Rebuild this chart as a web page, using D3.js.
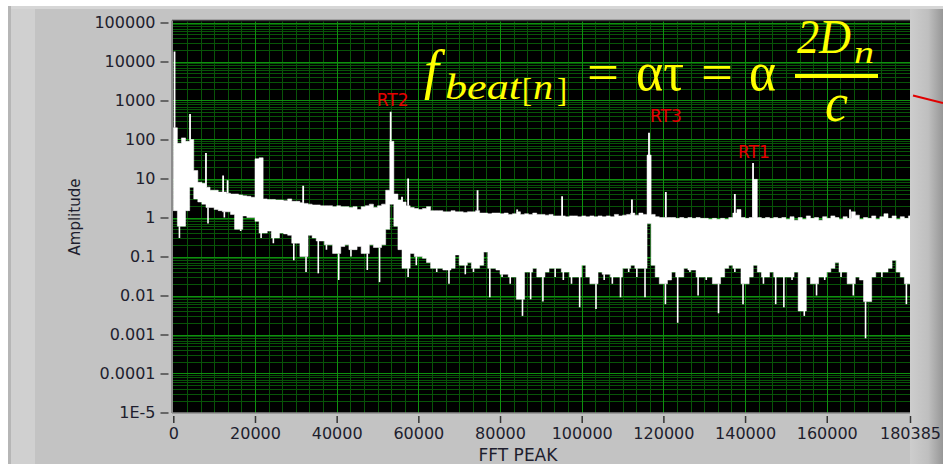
<!DOCTYPE html>
<html>
<head>
<meta charset="utf-8">
<script src="https://cdn.jsdelivr.net/npm/d3@7/dist/d3.min.js"></script>
<style>
  html, body { margin: 0; padding: 0; background: #ffffff; }
  svg { display: block; }
</style>
</head>
<body>
<svg id="chart" width="943" height="464"></svg>
<script>
// ---- Spectrum data (FFT magnitude, envelope per 1000-unit bin) ----
const binWidth = 1000;
const xMax = 180385;

// upper edge of the trace in each bin
const hiEnv = [
  200, 80, 110, 90, 100, 16, 8, 7.5, 6, 5,
  5, 4.5, 4.5, 4.2, 4, 4, 3.8, 3.6, 3.5, 3.3,
  32, 34, 3, 2.9, 2.9, 2.8, 2.8, 2.7, 3.0, 2.6,
  2.6, 2.4, 2.3, 2.2, 2.1, 2.1, 2.0, 2.0, 2.0, 1.9,
  2.0, 1.9, 1.9, 1.8, 1.9, 1.6, 1.9, 2.0, 2.2, 1.8,
  2.0, 2.2, 5, 90, 4, 2.8, 2.5, 2.0, 1.8, 1.7,
  1.6, 1.7, 1.9, 1.5, 1.5, 1.5, 1.4, 1.4, 1.5, 1.4,
  1.4, 1.35, 1.4, 1.4, 1.5, 1.3, 1.3, 1.25, 1.3, 1.3,
  1.25, 1.3, 1.2, 1.25, 1.4, 1.2, 1.25, 1.2, 1.3, 1.2,
  1.2, 1.15, 1.2, 1.1, 1.1, 1.1, 1.05, 1.1, 1.1, 1.05,
  1.1, 1.05, 1.1, 1.05, 1.1, 1.05, 1.1, 1.05, 1.2, 1.1,
  1.15, 1.2, 1.3, 1.15, 1.3, 1.2, 40, 1.2, 1.05, 1.0,
  1.0, 1.0, 1.0, 0.95, 1.0, 0.95, 1.0, 0.95, 1.0, 0.95,
  0.95, 0.9, 0.95, 0.9, 0.95, 0.9, 1.0, 1.3, 1.6, 1.0,
  0.95, 1.0, 9.5, 1.0, 0.95, 1.0, 0.95, 1.0, 0.95, 1.0,
  0.9, 1.05, 0.85, 1.0, 0.9, 1.1, 0.95, 1.0, 0.85, 1.05,
  0.95, 1.1, 1.0, 0.9, 1.05, 0.95, 1.4, 1.15, 0.9, 1.0,
  0.95, 1.1, 0.9, 1.05, 1.25, 0.95, 1.1, 0.9, 1.05, 0.95,
  1.1
];

// lower edge of the trace in each bin
const loEnv = [
  1.5, 0.3, 0.6, 1.5, 6, 3, 2.5, 2.2, 0.7, 1.8,
  1.6, 1.5, 1.0, 1.4, 1.2, 0.5, 0.45, 1.1, 1.0, 1.0,
  0.8, 0.3, 0.4, 0.45, 0.22, 0.3, 0.4, 0.38, 0.35, 0.08,
  0.22, 0.1, 0.04, 0.35, 0.3, 0.037, 0.25, 0.15, 0.2, 0.12,
  0.025, 0.18, 0.2, 0.1, 0.15, 0.18, 0.12, 0.045, 0.2, 0.17,
  0.022, 0.2, 0.5, 2.2, 0.6, 0.15, 0.05, 0.03, 0.12, 0.06,
  0.1, 0.09, 0.07, 0.05, 0.04, 0.05, 0.045, 0.02, 0.05, 0.11,
  0.06, 0.035, 0.07, 0.04, 0.05, 0.06, 0.13, 0.009, 0.05, 0.045,
  0.03, 0.035, 0.02, 0.03, 0.008, 0.003, 0.04, 0.008, 0.05, 0.03,
  0.007, 0.04, 0.05, 0.03, 0.05, 0.025, 0.04, 0.02, 0.03, 0.005,
  0.06, 0.03, 0.02, 0.0045, 0.04, 0.025, 0.035, 0.02, 0.03, 0.009,
  0.05, 0.04, 0.06, 0.03, 0.05, 0.009, 0.7, 0.06, 0.03, 0.02,
  0.006, 0.025, 0.04, 0.002, 0.03, 0.05, 0.04, 0.045, 0.01, 0.03,
  0.025, 0.03, 0.02, 0.0035, 0.03, 0.05, 0.06, 0.04, 0.05, 0.006,
  0.02, 0.03, 0.06, 0.04, 0.02, 0.03, 0.04, 0.006, 0.03, 0.005,
  0.03, 0.025, 0.04, 0.004, 0.003, 0.03, 0.02, 0.01, 0.03, 0.025,
  0.04, 0.05, 0.07, 0.03, 0.04, 0.02, 0.01, 0.03, 0.025, 0.0008,
  0.007, 0.03, 0.04, 0.03, 0.04, 0.05, 0.08, 0.04, 0.03, 0.006,
  0.02
];

// narrow spectral lines that rise above the envelope
const peakFreq = [300, 4100, 8000, 12200, 13300, 31800, 53230, 56000, 57500, 74500,
                  84200, 95200, 112300, 116480, 120600, 137500, 141950, 165700];
const peakAmp  = [18000, 450, 45, 12, 9, 6.5, 515, 3.4, 10, 5,
                  1.6, 3.5, 2.9, 150, 4.5, 4, 25, 1.6];

// labelled target returns
const markerNames = ["RT2", "RT3", "RT1"];
const markerFreq  = [53230, 116480, 141950];

// axes
const xTickValues = [0, 20000, 40000, 60000, 80000, 100000, 120000, 140000, 160000, 180385];
const yTickValues = [1e-5, 1e-4, 1e-3, 1e-2, 1e-1, 1, 10, 100, 1000, 10000, 100000];
const yTickLabels = ["1E-5", "0.0001", "0.001", "0.01", "0.1", "1", "10", "100", "1000", "10000", "100000"];
const xTitle = "FFT PEAK";
const yTitle = "Amplitude";

// ---- Layout ----
const W = 943, H = 464;
const plot = { left: 172, right: 910, top: 20.5, bottom: 413 };

const svg = d3.select("#chart");
const defs = svg.append("defs");

// panel background
svg.append("rect").attr("x", 0).attr("y", 0).attr("width", W).attr("height", H).attr("fill", "#ffffff");
svg.append("rect").attr("x", 8).attr("y", 6).attr("width", W - 8).attr("height", H - 6).attr("fill", "#c3c3c3");
svg.append("rect").attr("x", 8).attr("y", 6).attr("width", W - 8).attr("height", 3).attr("fill", "#d6d6d6");
svg.append("rect").attr("x", 8).attr("y", 6).attr("width", 3).attr("height", H - 6).attr("fill", "#b6b6b6");
svg.append("rect").attr("x", 11).attr("y", 9).attr("width", 24).attr("height", H - 9).attr("fill", "#d0d0d0");

const rightGrad = defs.append("linearGradient").attr("id", "rightEdge")
  .attr("x1", "0").attr("x2", "1").attr("y1", "0").attr("y2", "0");
rightGrad.append("stop").attr("offset", "0").attr("stop-color", "#cdcdcd");
rightGrad.append("stop").attr("offset", "0.55").attr("stop-color", "#bfbfbf");
rightGrad.append("stop").attr("offset", "1").attr("stop-color", "#979797");
svg.append("rect").attr("x", plot.right).attr("y", 9).attr("width", W - plot.right).attr("height", H - 9)
  .attr("fill", "url(#rightEdge)");

// scales
const x = d3.scaleLinear().domain([0, xMax]).range([173.3, 910]);
const y = d3.scaleLog().domain([1e-5, 1e5]).range([412.5, 22.5]);

// plot area
svg.append("rect").attr("x", plot.left).attr("y", plot.top)
  .attr("width", plot.right - plot.left).attr("height", plot.bottom - plot.top)
  .attr("fill", "#000000");

defs.append("clipPath").attr("id", "plotClip")
  .append("rect").attr("x", plot.left + 1).attr("y", plot.top + 1)
  .attr("width", plot.right - plot.left - 1).attr("height", plot.bottom - plot.top - 1);

const gPlot = svg.append("g").attr("clip-path", "url(#plotClip)");

// grid: minor then major
const xMinor = d3.range(0, xMax + 1, 20000 / 6).filter(v => Math.abs(v / 20000 - Math.round(v / 20000)) > 1e-6);
const yMinor = [];
for (let d = -5; d < 5; d++) for (let j = 2; j <= 9; j++) yMinor.push(j * Math.pow(10, d));

const minorColor = "#085408", majorColor = "#0e900e";
gPlot.append("g").selectAll("line").data(xMinor).join("line")
  .attr("x1", d => Math.round(x(d)) + 0.5).attr("x2", d => Math.round(x(d)) + 0.5)
  .attr("y1", plot.top).attr("y2", plot.bottom)
  .attr("stroke", minorColor).attr("stroke-width", 1);
gPlot.append("g").selectAll("line").data(yMinor).join("line")
  .attr("y1", d => Math.round(y(d)) + 0.5).attr("y2", d => Math.round(y(d)) + 0.5)
  .attr("x1", plot.left).attr("x2", plot.right)
  .attr("stroke", minorColor).attr("stroke-width", 1);
gPlot.append("g").selectAll("line").data(xTickValues.slice(1, -1)).join("line")
  .attr("x1", d => Math.round(x(d)) + 0.5).attr("x2", d => Math.round(x(d)) + 0.5)
  .attr("y1", plot.top).attr("y2", plot.bottom)
  .attr("stroke", majorColor).attr("stroke-width", 1);
gPlot.append("g").selectAll("line").data(yTickValues).join("line")
  .attr("y1", d => Math.round(y(d)) + 0.5).attr("y2", d => Math.round(y(d)) + 0.5)
  .attr("x1", plot.left).attr("x2", plot.right)
  .attr("stroke", majorColor).attr("stroke-width", 1);

// spectrum band: solid core per bin, isolated deep minima drawn as thin drop lines
const core = loEnv.map((v, i) => {
  const a = loEnv[Math.max(i - 1, 0)], b = loEnv[Math.min(i + 1, loEnv.length - 1)];
  return Math.max(v, Math.min(a, b));
});
const bins = hiEnv.map((h, i) => ({ f: i * binWidth, hi: h, lo: core[i] }));
bins.push({ f: xMax, hi: hiEnv[hiEnv.length - 1], lo: core[core.length - 1] });

const band = d3.area()
  .x(d => x(d.f))
  .y0(d => y(d.lo))
  .y1(d => y(d.hi))
  .curve(d3.curveStepAfter);

gPlot.append("path").datum(bins).attr("d", band)
  .attr("fill", "#ffffff").attr("stroke", "#ffffff").attr("stroke-width", 0.5);

const drops = loEnv.map((v, i) => ({ f: (i + 0.5) * binWidth, lo: v, top: core[i] }))
  .filter(d => d.lo < d.top);
gPlot.append("g").selectAll("line").data(drops).join("line")
  .attr("x1", d => x(d.f)).attr("x2", d => x(d.f))
  .attr("y1", d => y(d.top)).attr("y2", d => y(d.lo))
  .attr("stroke", "#ffffff").attr("stroke-width", 1.6);

// narrow lines above the band
const peaks = peakFreq.map((f, i) => ({ f, v: peakAmp[i], base: hiEnv[Math.min(Math.floor(f / binWidth), hiEnv.length - 1)] }));
gPlot.append("g").selectAll("line").data(peaks).join("line")
  .attr("x1", d => x(d.f)).attr("x2", d => x(d.f))
  .attr("y1", d => y(d.base)).attr("y2", d => y(d.v))
  .attr("stroke", "#ffffff").attr("stroke-width", 1.8);

// plot frame
svg.append("line").attr("x1", plot.left).attr("x2", plot.right).attr("y1", plot.top).attr("y2", plot.top)
  .attr("stroke", "#3a3a3a").attr("stroke-width", 1.5);
svg.append("line").attr("x1", plot.left).attr("x2", plot.left).attr("y1", plot.top).attr("y2", plot.bottom)
  .attr("stroke", "#8c8c8c").attr("stroke-width", 2);
svg.append("line").attr("x1", plot.left).attr("x2", plot.right).attr("y1", plot.bottom).attr("y2", plot.bottom)
  .attr("stroke", "#8c8c8c").attr("stroke-width", 1.5);

// axes
const tickFont = "DejaVu Sans, Verdana, sans-serif";
const yAxis = d3.axisLeft(y).tickValues(yTickValues)
  .tickFormat((d, i) => yTickLabels[i]).tickSize(8).tickPadding(5);
const gy = svg.append("g").attr("transform", "translate(168.5,0)").call(yAxis);
gy.select(".domain").remove();
gy.selectAll(".tick line").attr("stroke", "#333333").attr("stroke-width", 1.3);
gy.selectAll(".tick text").attr("font-family", tickFont).attr("font-size", 16).attr("fill", "#1e1e2e");

const xAxis = d3.axisBottom(x).tickValues(xTickValues).tickFormat(d3.format("d")).tickSize(7).tickPadding(5);
const gx = svg.append("g").attr("transform", "translate(0,416)").call(xAxis);
gx.select(".domain").remove();
gx.selectAll(".tick line").attr("stroke", "#333333").attr("stroke-width", 1.5);
gx.selectAll(".tick text").attr("font-family", tickFont).attr("font-size", 16).attr("fill", "#1e1e2e");

svg.append("text").attr("x", 518).attr("y", 461).attr("text-anchor", "middle")
  .attr("font-family", tickFont).attr("font-size", 17).attr("fill", "#1e1e2e").text(xTitle);
svg.append("text").attr("transform", "translate(80,217) rotate(-90)").attr("text-anchor", "middle")
  .attr("font-family", tickFont).attr("font-size", 15).attr("fill", "#1e1e2e").text(yTitle);

// marker labels
const markerOffset = [[-14, -6], [1, -11], [-15, -5]];
svg.append("g").selectAll("text").data(markerNames).join("text")
  .attr("x", (d, i) => x(markerFreq[i]) + markerOffset[i][0])
  .attr("y", (d, i) => y(peakAmp[peakFreq.indexOf(markerFreq[i])]) + markerOffset[i][1])
  .attr("font-family", tickFont).attr("font-size", 17).attr("fill", "#e60000")
  .text(d => d);

// beat frequency relation
const yellow = "#ffff00";
const serif = "Liberation Serif, Times New Roman, serif";
const eq = svg.append("g").attr("fill", yellow).attr("font-family", serif);
function put(t, px, py, size, len, style) {
  const el = eq.append("text").attr("x", px).attr("y", py).attr("font-size", size)
    .attr("font-style", style || "italic").text(t);
  if (len) el.attr("textLength", len).attr("lengthAdjust", "spacingAndGlyphs");
  return el;
}
put("f", 424, 88, 54);
put("beat", 445, 99, 36, 76);
put("[", 522, 101, 34, 10, "normal");
put("n", 533, 99, 36, 20);
put("]", 557, 101, 34, 10, "normal");
put("=", 587, 90, 52, 32, "normal");
put("ατ", 636, 90, 54, 48, "normal");
put("=", 701, 90, 52, 32, "normal");
put("α", 749, 90, 54, 27, "normal");
eq.append("rect").attr("x", 795).attr("y", 74).attr("width", 83).attr("height", 4);
put("2D", 797, 53, 48, 54);
put("n", 854, 63, 32, 20);
put("c", 825, 121, 54, 23);

// pointer line at the right edge
svg.append("line").attr("x1", 913).attr("y1", 95.5).attr("x2", 943).attr("y2", 103)
  .attr("stroke", "#e00000").attr("stroke-width", 2);
</script>
</body>
</html>
